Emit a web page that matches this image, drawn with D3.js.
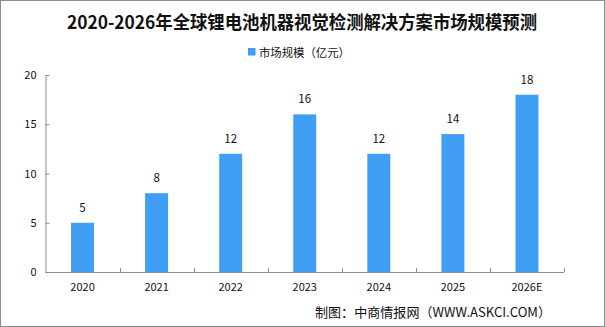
<!DOCTYPE html>
<html><head><meta charset="utf-8">
<script src="https://cdn.jsdelivr.net/npm/d3@7"></script>
<style>html,body{margin:0;padding:0;background:#fff;}svg{display:block;}</style>
</head><body>
<svg id="chart" width="605" height="327"></svg>
<script>
const categories = ["2020","2021","2022","2023","2024","2025","2026E"];
const values = [5, 8, 12, 16, 12, 14, 18];
const yTicks = [0, 5, 10, 15, 20];
const titleText = "2020-2026年全球锂电池机器视觉检测解决方案市场规模预测";
const legendText = "市场规模（亿元）";
const sourceText = "制图：中商情报网（WWW.ASKCI.COM）";

const svg = d3.select("#chart");
const W = 605, H = 327;
const font = "'Noto Sans CJK SC', 'Liberation Sans', sans-serif";
const axisColor = "#8c8c8c";
const barColor = "#409ef4";

svg.append("rect").attr("x",0.5).attr("y",0.5).attr("width",W-1).attr("height",H-1)
  .attr("fill","#fff").attr("stroke","#8c8c8c").attr("stroke-width",1);

const m = {left: 45.5, right: 564, top: 75, bottom: 272};
const x = d3.scaleBand().domain(categories).range([m.left, m.right]).paddingInner(0.69).paddingOuter(0.345);
const y = d3.scaleLinear().domain([0, 20]).range([m.bottom, m.top]);

// title
svg.append("text").attr("x", 302).attr("y", 28.5).attr("text-anchor","middle")
  .attr("font-family", font).attr("font-weight","bold").attr("font-size", 18).attr("fill","#111")
  .attr("textLength", 470).attr("lengthAdjust","spacingAndGlyphs")
  .text(titleText);

// legend
svg.append("rect").attr("x",248).attr("y",48).attr("width",7.5).attr("height",7.5).attr("fill",barColor);
svg.append("text").attr("x",259).attr("y",56.5).attr("font-family",font).attr("font-size",11.5).attr("fill","#111")
  .attr("textLength", 91).attr("lengthAdjust","spacingAndGlyphs")
  .text(legendText);

// y axis
const yAxis = d3.axisLeft(y).tickValues(yTicks).tickSizeInner(-4).tickSizeOuter(0).tickPadding(10);
const gy = svg.append("g").attr("transform",`translate(${m.left},0)`).call(yAxis);
gy.select(".domain").attr("stroke",axisColor);
gy.selectAll(".tick line").attr("stroke",axisColor);
gy.selectAll(".tick text").attr("font-family",font).attr("font-size",11).attr("fill","#111").attr("x",-9);

// x axis with ticks at band boundaries
const gx = svg.append("g").attr("transform",`translate(0,${m.bottom})`);
gx.append("line").attr("x1",m.left).attr("x2",m.right).attr("y1",0.5).attr("y2",0.5).attr("stroke",axisColor);
const boundaries = d3.range(1, categories.length + 1).map(i => m.left + i * (m.right - m.left) / categories.length);
gx.selectAll("line.tk").data(boundaries).join("line").attr("class","tk")
  .attr("x1",d=>Math.round(d)+0.5).attr("x2",d=>Math.round(d)+0.5).attr("y1",0).attr("y2",-4).attr("stroke",axisColor);
gx.selectAll("text").data(categories).join("text")
  .attr("x",d=>x(d)+x.bandwidth()/2).attr("y",19).attr("text-anchor","middle")
  .attr("font-family",font).attr("font-size",11).attr("fill","#111").text(d=>d);

// bars
svg.selectAll("rect.bar").data(values).join("rect").attr("class","bar")
  .attr("x",(d,i)=>x(categories[i])).attr("width",x.bandwidth())
  .attr("y",d=>y(d)).attr("height",d=>y(0)-y(d)).attr("fill",barColor);

// labels
svg.selectAll("text.lbl").data(values).join("text").attr("class","lbl")
  .attr("x",(d,i)=>x(categories[i])+x.bandwidth()/2).attr("y",d=>y(d)-11)
  .attr("text-anchor","middle").attr("font-family",font).attr("font-size",11.5).attr("fill","#111").text(d=>d);

// source
svg.append("text").attr("x",315).attr("y",317)
  .attr("font-family",font).attr("font-size",13).attr("fill","#111")
  .attr("textLength", 236).attr("lengthAdjust","spacingAndGlyphs")
  .text(sourceText);
</script>
</body></html>
